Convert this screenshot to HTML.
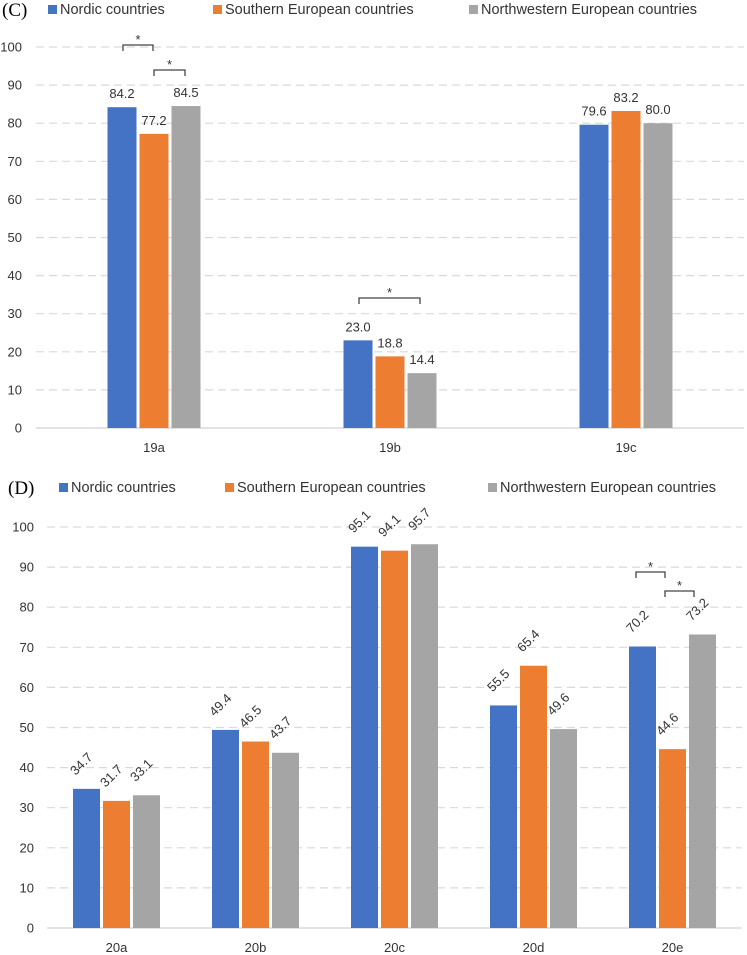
<!DOCTYPE html>
<html><head><meta charset="utf-8"><style>
body{margin:0;background:#fff;}
svg{display:block;font-family:"Liberation Sans",sans-serif;}
</style></head><body>
<svg id="chart" width="747" height="955"></svg>
<script>
const catsC=["19a","19b","19c"];
const nordicC=[84.2,23.0,79.6];
const southC=[77.2,18.8,83.2];
const nwC=[84.5,14.4,80.0];
const catsD=["20a","20b","20c","20d","20e"];
const nordicD=[34.7,49.4,95.1,55.5,70.2];
const southD=[31.7,46.5,94.1,65.4,44.6];
const nwD=[33.1,43.7,95.7,49.6,73.2];
const yTicks=[0,10,20,30,40,50,60,70,80,90,100];
const seriesNames=["Nordic countries","Southern European countries","Northwestern European countries"];
const colors=["#4472c4","#ed7d31","#a5a5a5"];
const NS="http://www.w3.org/2000/svg";
const svg=document.getElementById('chart');
function mk(tag,attrs,parent){const e=document.createElementNS(NS,tag);for(const k in attrs)e.setAttribute(k,attrs[k]);(parent||svg).appendChild(e);return e;}

function drawChart(p){
  const g=mk('g',{});
  
  
  const y=v=>p.y0-(v/100)*(p.y0-p.y100);
  const band=(p.x1-p.x0)/p.cats.length;
  const cx=i=>p.x0+band*(i+0.5);
  const pl=mk('text',{x:p.labelX,y:p.legY+6,'font-size':19,'font-family':'Liberation Serif, serif',fill:'#000'},g);
  pl.textContent=p.panel;
  
  
  seriesNames.forEach((n,i)=>{
    const lg=mk('g',{},g);
    
    
    mk('rect',{x:p.legX[i],y:p.legY-5,width:9,height:9,fill:colors[i]},lg);
    const t=mk('text',{x:p.legX[i]+12,y:p.legY+4,'font-size':14.5,fill:'#333'},lg);
    t.textContent=n;
  });
  yTicks.forEach(v=>{
    if(v>0){const l=mk('line',{x1:p.x0,x2:p.x1,y1:y(v),y2:y(v),stroke:'#d9d9d9','stroke-width':1.2,'stroke-dasharray':'8,5'},g);
      }
    const t=mk('text',{x:p.tickX,y:y(v)+4.5,'text-anchor':'end','font-size':13,fill:'#333'},g);
    t.textContent=v;
    
  });
  const ax=mk('line',{x1:p.x0,x2:p.x1,y1:p.y0,y2:p.y0,stroke:'#d9d9d9','stroke-width':1.5},g);
  
  const series=[p.s1,p.s2,p.s3];
  p.cats.forEach((c,i)=>{
    const ct=mk('text',{x:cx(i),y:p.y0+24,'text-anchor':'middle','font-size':13,fill:'#333'},g);
    ct.textContent=c;
    
    series.forEach((s,k)=>{
      const off=(k-1)*(p.bw+p.gap);
      const bx=cx(i)+off-p.bw/2;
      const r=mk('rect',{x:bx,y:y(s[i]),width:p.bw,height:p.y0-y(s[i]),fill:colors[k]},g);
      
      
      let t;
      if(p.rot){
        const tx=cx(i)+off-11, ty=y(s[i])-13;
        t=mk('text',{x:tx,y:ty,'font-size':13,fill:'#333',transform:`rotate(-45 ${tx} ${ty})`},g);
      } else {
        t=mk('text',{x:cx(i)+off,y:y(s[i])-9,'text-anchor':'middle','font-size':13,fill:'#333'},g);
      }
      t.textContent=s[i].toFixed(1);
      
    });
  });
  (p.brackets||[]).forEach(b=>{
    const bg=mk('g',{},g);
    
    
    mk('path',{d:`M${b[0]} ${b[2]+6}V${b[2]}H${b[1]}V${b[2]+6}`,fill:'none',stroke:'#444','stroke-width':1.3},bg);
    const st=mk('text',{x:(b[0]+b[1])/2,y:b[2]-1,'text-anchor':'middle','font-size':13,fill:'#333'},bg);
    st.textContent='*';
  });
}
drawChart({name:'chart-c',panel:'(C)',labelX:2,legY:10,legX:[48,213,469],x0:36,x1:744,y0:428,y100:47,tickX:22,cats:catsC,s1:nordicC,s2:southC,s3:nwC,bw:29,gap:3,rot:false,
  brackets:[[123,153,45],[154,185,70],[359,420,298]]});
drawChart({name:'chart-d',panel:'(D)',labelX:8,legY:488,legX:[59,225,488],x0:47,x1:742,y0:928,y100:527,tickX:34,cats:catsD,s1:nordicD,s2:southD,s3:nwD,bw:27,gap:3,rot:true,
  brackets:[[636,665,572],[665,694,591]]});
</script>
</body></html>
